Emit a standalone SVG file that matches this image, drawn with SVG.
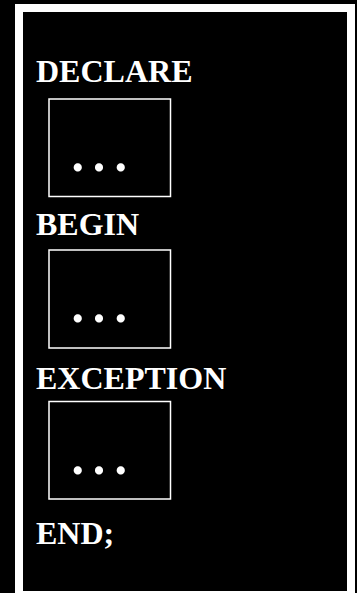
<svg xmlns="http://www.w3.org/2000/svg" width="357" height="593" viewBox="0 0 357 593">
<style>
.kw{font-family:"Liberation Serif","Times New Roman",serif;font-weight:bold;font-size:32px;fill:#fff}
.dots{font-family:"Liberation Serif","Times New Roman",serif;font-weight:bold;font-size:50px;fill:#fff}
.box{fill:none;stroke:#fff;stroke-width:1.5}
</style>
<rect x="0" y="0" width="357" height="593" fill="#000"/>
<rect id="frame" x="15" y="4" width="340" height="595" fill="#fff"/>
<rect x="23" y="12" width="324" height="579" fill="#000"/>
<g id="declare"><text class="kw" x="36" y="82">DECLARE</text></g>
<g id="block1"><rect class="box" x="49" y="99" width="121.5" height="97.5"/><text class="dots" x="71.5 92.8 114.5" y="171">...</text></g>
<g id="begin"><text class="kw" x="36" y="235">BEGIN</text></g>
<g id="block2"><rect class="box" x="49" y="250" width="121.5" height="98"/><text class="dots" x="71.5 92.8 114.5" y="322">...</text></g>
<g id="exception"><text class="kw" x="36" y="389">EXCEPTION</text></g>
<g id="block3"><rect class="box" x="49" y="401.5" width="121.5" height="97.5"/><text class="dots" x="71.5 92.8 114.5" y="473.5">...</text></g>
<g id="end"><text class="kw" x="36" y="544">END;</text></g>
<g id="connectors"/>
</svg>
